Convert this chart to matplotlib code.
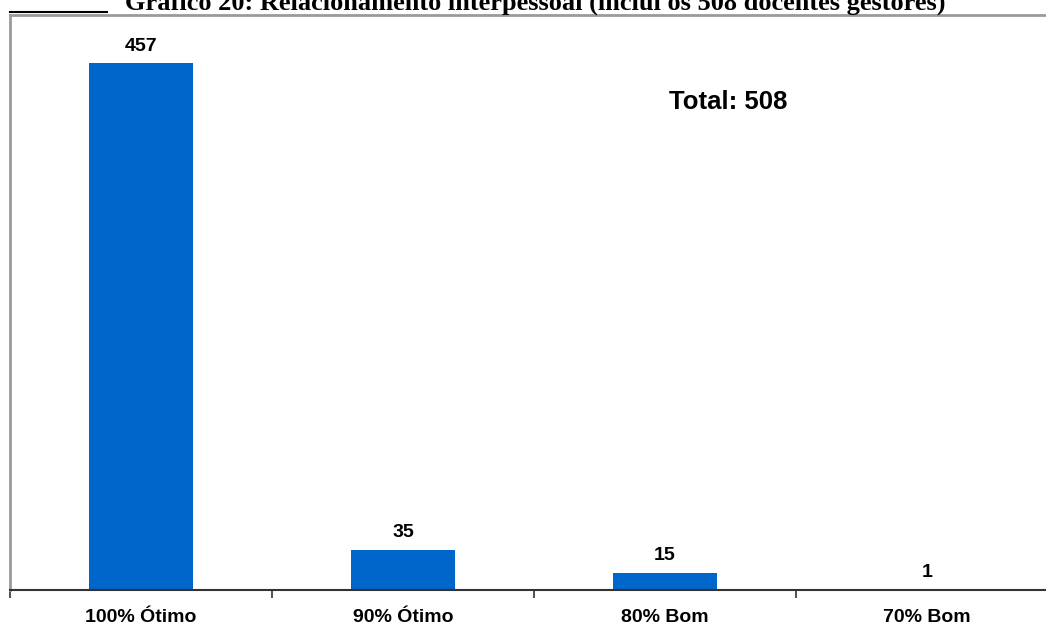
import matplotlib
matplotlib.use("Agg")
import matplotlib.pyplot as plt
from matplotlib.lines import Line2D

categories = ["100% Ótimo", "90% Ótimo", "80% Bom", "70% Bom"]
counts = [457, 35, 15, 1]
total_label = "Total: 508"
title = "Gráfico 20: Relacionamento interpessoal (inclui os 508 docentes gestores)"

W, H = 1046, 625
fig = plt.figure(figsize=(W / 100, H / 100), dpi=100)

# plot area: left edge at x=10px, bottom at y=590px, top at y=15px
left, bottom, top = 10 / W, (H - 590) / H, (H - 15) / H
ax = fig.add_axes([left, bottom, 1048 / W, top - bottom])

x = range(len(categories))
bars = ax.bar(x, counts, width=0.4, color="#0066CC", zorder=2)
ax.set_xlim(-0.5, 3.5)
ax.set_ylim(0, 498.6)

for b, v in zip(bars, counts):
    ax.annotate(str(v), (b.get_x() + b.get_width() / 2, v), xytext=(0, 6),
                textcoords="offset points", ha="center", va="bottom",
                fontsize=14, fontweight="bold", family="Liberation Sans")

ax.text(0.685, 0.848, total_label, transform=ax.transAxes, ha="center", va="center",
        fontsize=18.5, fontweight="bold", family="Liberation Sans")

ax.set_xticks(list(x))
ax.set_xticklabels(categories, fontsize=14, fontweight="bold", family="Liberation Sans")
ax.tick_params(axis="x", length=0, pad=13.5)
ax.set_xticks([i - 0.5 for i in range(5)], minor=True)
ax.tick_params(axis="x", which="minor", length=6, width=1.2, color="#333333", direction="out")
ax.set_yticks([])

for s in ("left", "top"):
    ax.spines[s].set_color("#9a9a9a")
    ax.spines[s].set_linewidth(2)
ax.spines["right"].set_visible(False)
ax.spines["bottom"].set_color("#333333")
ax.spines["bottom"].set_linewidth(1.5)

fig.text(535 / W, 1 - 10 / H, title, ha="center", va="baseline",
         fontsize=19, fontweight="bold", family="Liberation Serif")
fig.add_artist(Line2D([10 / W, 107 / W], [1 - 12 / H, 1 - 12 / H],
                      color="black", lw=1.5, transform=fig.transFigure))

fig.savefig("out.png", dpi=100)
